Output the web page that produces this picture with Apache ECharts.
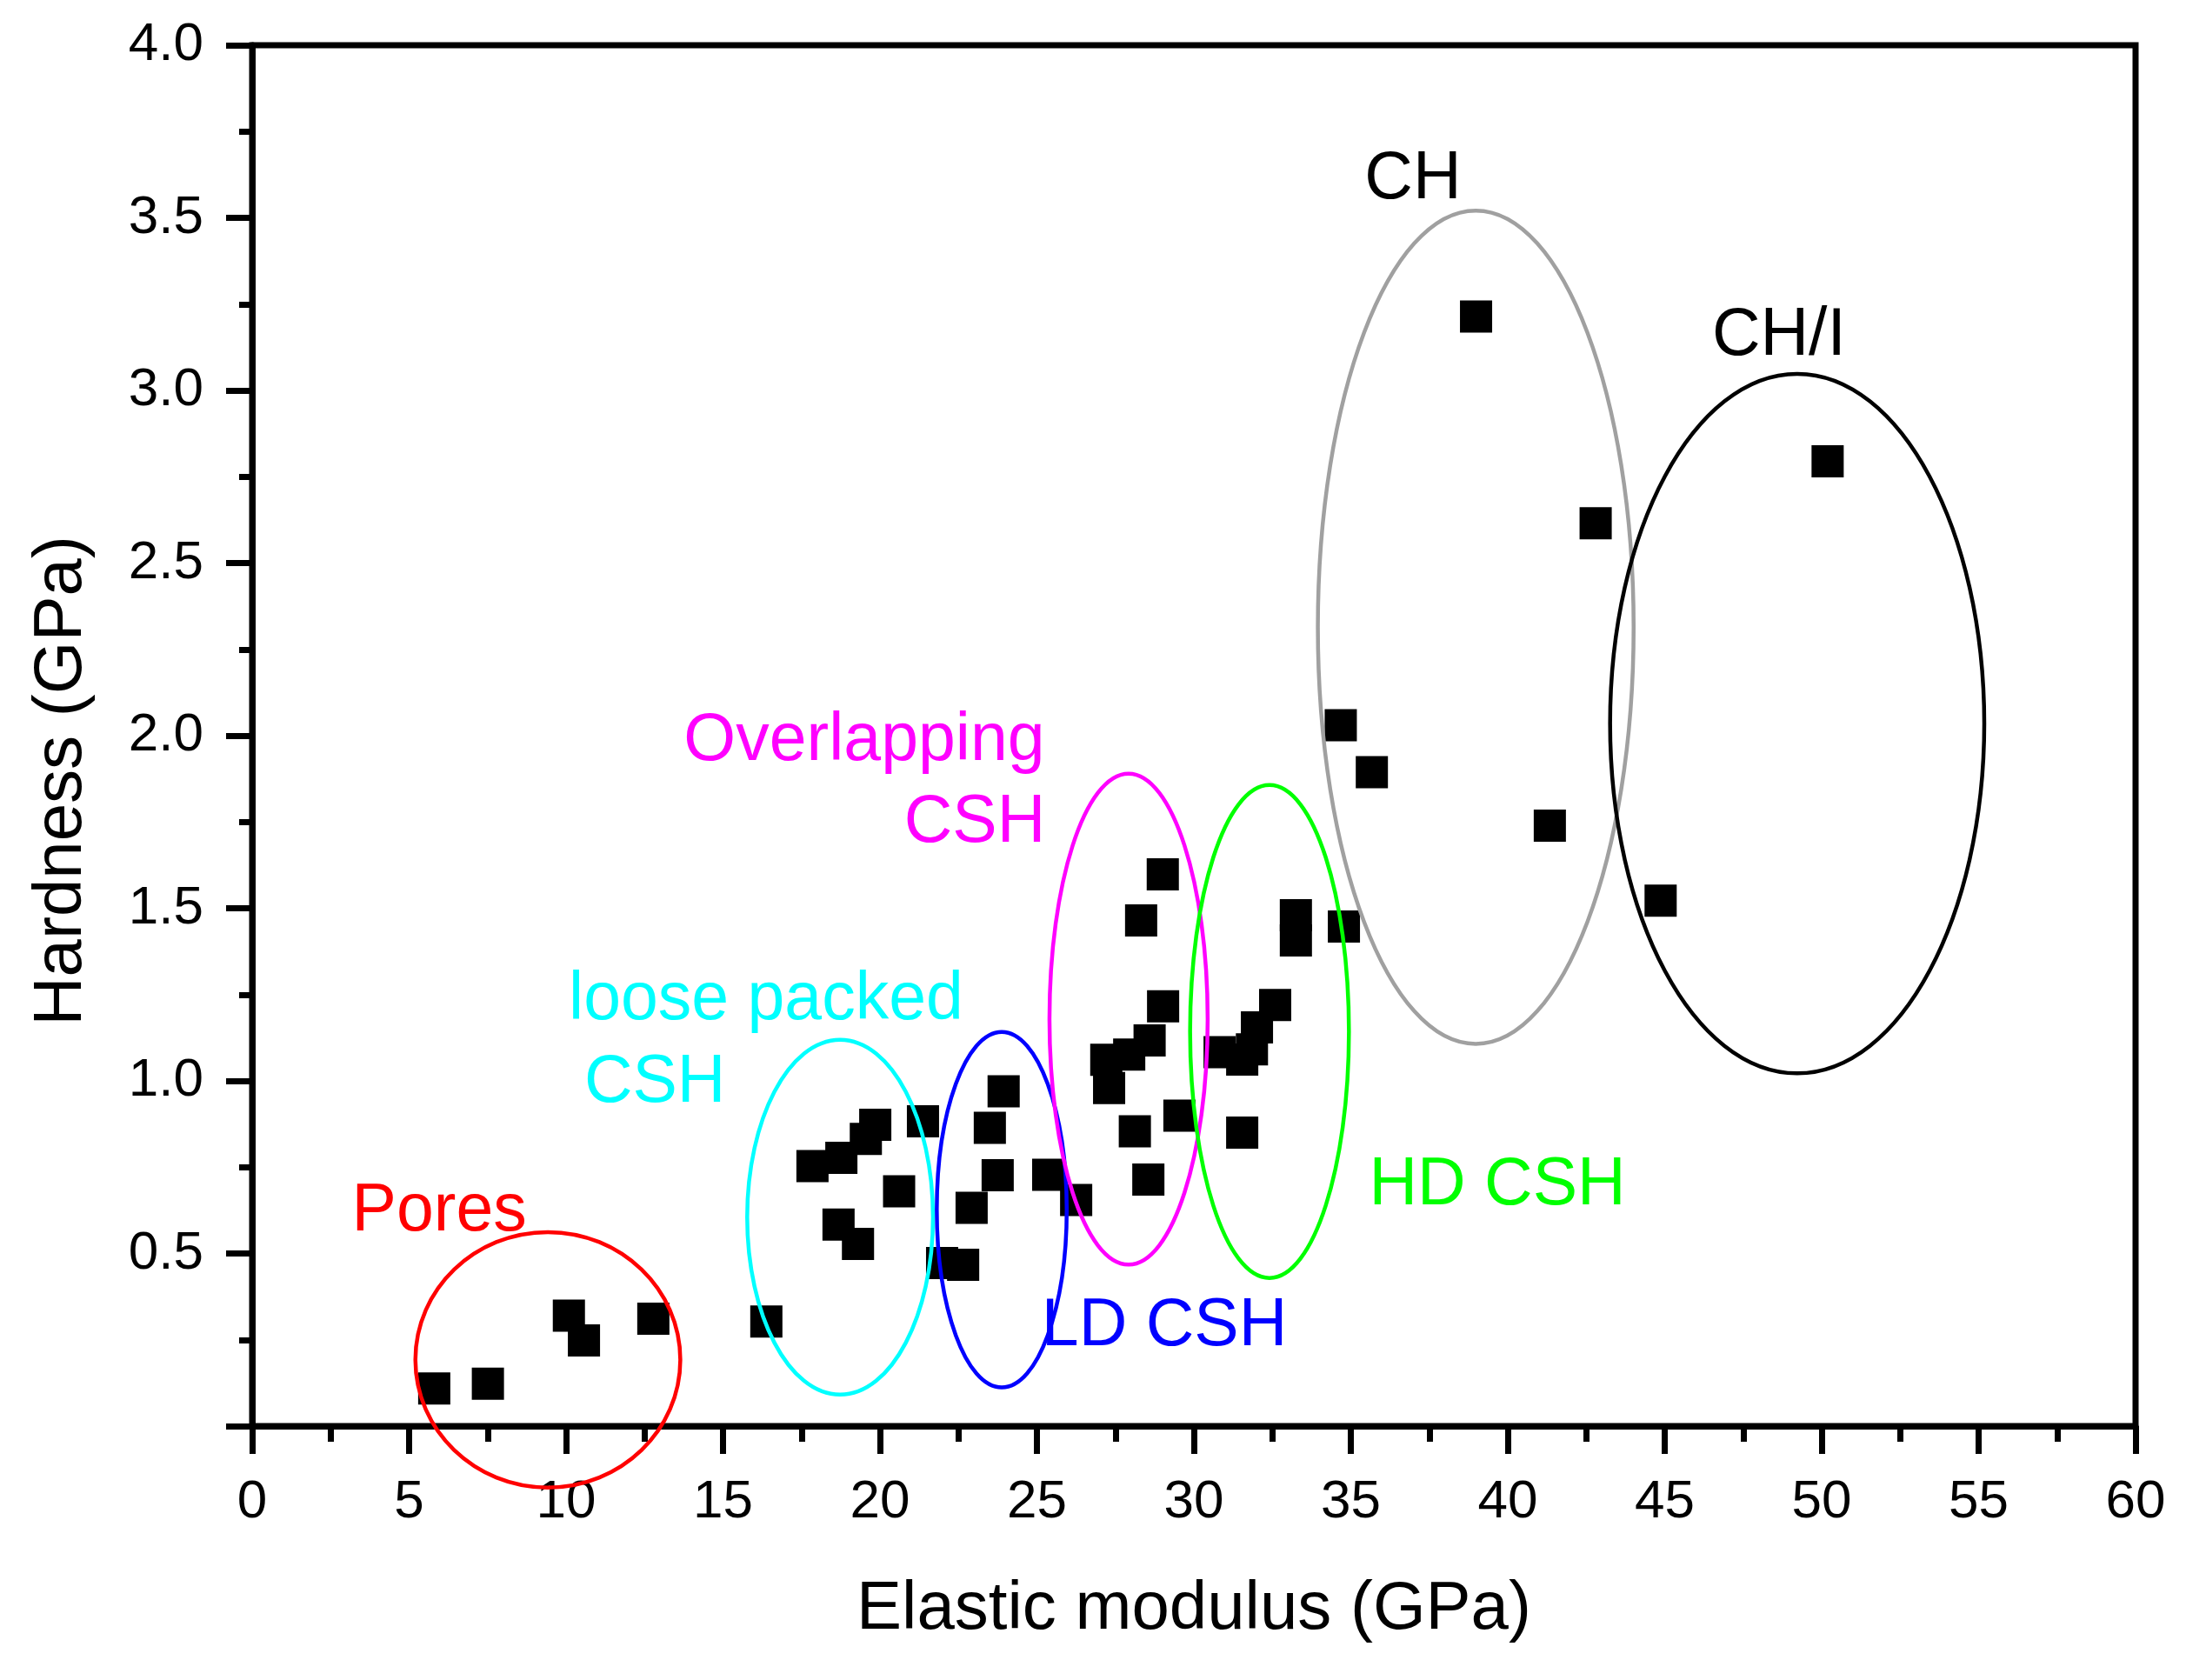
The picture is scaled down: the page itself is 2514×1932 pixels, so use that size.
<!DOCTYPE html>
<html>
<head>
<meta charset="utf-8">
<title>Hardness vs Elastic modulus</title>
<script src="https://cdn.jsdelivr.net/npm/echarts@6/dist/echarts.min.js"></script>
<style>
    html, body { margin: 0; padding: 0; background: #fff; }
    #main { width: 2514px; height: 1932px; }
</style>
</head>
<body>
<div id="main"></div>
<script>
// measured points (GPa)
var modulus = [5.80, 7.51, 10.09, 10.57, 12.78, 16.38,
    17.85, 18.77, 19.55, 19.85, 21.37, 20.61, 18.68, 19.30, 21.98, 22.65,
    23.94, 23.50, 23.75, 22.92, 25.36, 26.25,
    29.01, 28.32, 29.02, 28.59, 27.94, 27.21, 27.30, 29.54, 28.12, 28.55,
    32.59, 32.01, 31.85, 30.82, 31.54, 31.54, 33.25, 33.25, 34.78,
    34.68, 35.67, 38.99, 42.80, 41.34, 44.87, 50.19];
var hardness = [0.109, 0.123, 0.320, 0.248, 0.311, 0.303,
    0.753, 0.777, 0.832, 0.873, 0.883, 0.680, 0.584, 0.528, 0.472, 0.467,
    0.970, 0.864, 0.727, 0.632, 0.728, 0.655,
    1.598, 1.465, 1.216, 1.117, 1.076, 1.061, 0.979, 0.899, 0.854, 0.714,
    1.220, 1.155, 1.091, 1.083, 1.062, 0.850, 1.480, 1.407, 1.447,
    2.030, 1.894, 3.214, 2.615, 1.739, 1.522, 2.795];

// group ellipses (centre and radii in axis units)
var ringCx = [9.42, 18.73, 23.88, 27.92, 32.41, 38.98, 49.22];
var ringCy = [0.192, 0.605, 0.627, 1.179, 1.143, 2.314, 2.035];
var ringRx = [4.22, 2.96, 2.07, 2.52, 2.53, 5.03, 5.96];
var ringRy = [0.370, 0.514, 0.515, 0.711, 0.714, 1.207, 1.013];
var ringColors = ['#ff0000', '#00ffff', '#0000ff', '#ff00ff', '#00ff00', '#a0a0a0', '#000000'];

// group labels
var labelText = ['Pores', 'loose packed', 'CSH', 'Overlapping', 'CSH', 'LD CSH', 'HD CSH', 'CH', 'CH/I'];
var labelX = [5.96, 16.37, 12.83, 19.50, 23.02, 29.06, 39.67, 36.98, 48.64];
var labelY = [0.619, 1.233, 0.992, 1.984, 1.747, 0.289, 0.695, 3.610, 3.157];
var labelColors = ['#ff0000', '#00ffff', '#00ffff', '#ff00ff', '#ff00ff', '#0000ff', '#00ff00', '#000000', '#000000'];

var FONT = '"Liberation Sans", Arial, sans-serif';

var points = modulus.map(function (x, i) { return [x, hardness[i]]; });
var rings = ringCx.map(function (x, i) { return [x, ringCy[i], ringRx[i], ringRy[i]]; });
var labels = labelX.map(function (x, i) { return [x, labelY[i]]; });

var myChart = echarts.init(document.getElementById('main'));

var option = {
    backgroundColor: '#fff',
    animation: false,
    grid: {
        left: 290,
        right: 58,
        top: 52,
        bottom: 292,
        show: true,
        borderColor: '#000',
        borderWidth: 7
    },
    xAxis: {
        type: 'value',
        min: 0,
        max: 60,
        interval: 5,
        name: 'Elastic modulus (GPa)',
        nameLocation: 'middle',
        nameGap: 172,
        nameTextStyle: { color: '#000', fontSize: 78, fontFamily: FONT },
        axisLine: { lineStyle: { color: '#000', width: 7 } },
        axisTick: { length: 32, lineStyle: { color: '#000', width: 7 } },
        minorTick: { show: true, splitNumber: 2, length: 18, lineStyle: { color: '#000', width: 7 } },
        axisLabel: { margin: 57, color: '#000', fontSize: 62, fontFamily: FONT },
        splitLine: { show: false }
    },
    yAxis: {
        type: 'value',
        min: 0,
        max: 4,
        interval: 0.5,
        name: 'Hardness (GPa)',
        nameLocation: 'middle',
        nameGap: 180,
        nameTextStyle: { color: '#000', fontSize: 78, fontFamily: FONT, padding: [0, 104, 0, 0] },
        axisLine: { lineStyle: { color: '#000', width: 7 } },
        axisTick: { length: 30, lineStyle: { color: '#000', width: 7 } },
        minorTick: { show: true, splitNumber: 2, length: 15, lineStyle: { color: '#000', width: 7 } },
        axisLabel: {
            margin: 56,
            color: '#000',
            fontSize: 62,
            fontFamily: FONT,
            formatter: function (v) { return v === 0 ? '' : v.toFixed(1); }
        },
        splitLine: { show: false }
    },
    series: [
        {
            type: 'scatter',
            data: points,
            symbol: 'rect',
            symbolSize: 37,
            itemStyle: { color: '#000', opacity: 1 },
            z: 2
        },
        {
            type: 'custom',
            data: rings,
            clip: false,
            z: 3,
            silent: true,
            renderItem: function (params, api) {
                var c = api.coord([api.value(0), api.value(1)]);
                var s = api.size([api.value(2), api.value(3)]);
                return {
                    type: 'ellipse',
                    shape: { cx: c[0], cy: c[1], rx: s[0], ry: s[1] },
                    style: { fill: null, stroke: ringColors[params.dataIndex], lineWidth: 4.5 }
                };
            }
        },
        {
            type: 'custom',
            data: labels,
            clip: false,
            z: 4,
            silent: true,
            renderItem: function (params, api) {
                var c = api.coord([api.value(0), api.value(1)]);
                return {
                    type: 'text',
                    x: c[0],
                    y: c[1],
                    style: {
                        text: labelText[params.dataIndex],
                        fill: labelColors[params.dataIndex],
                        font: '77px ' + FONT,
                        align: 'center',
                        verticalAlign: 'middle'
                    }
                };
            }
        }
    ]
};

myChart.setOption(option);
window.onresize = myChart.resize;
</script>
</body>
</html>
